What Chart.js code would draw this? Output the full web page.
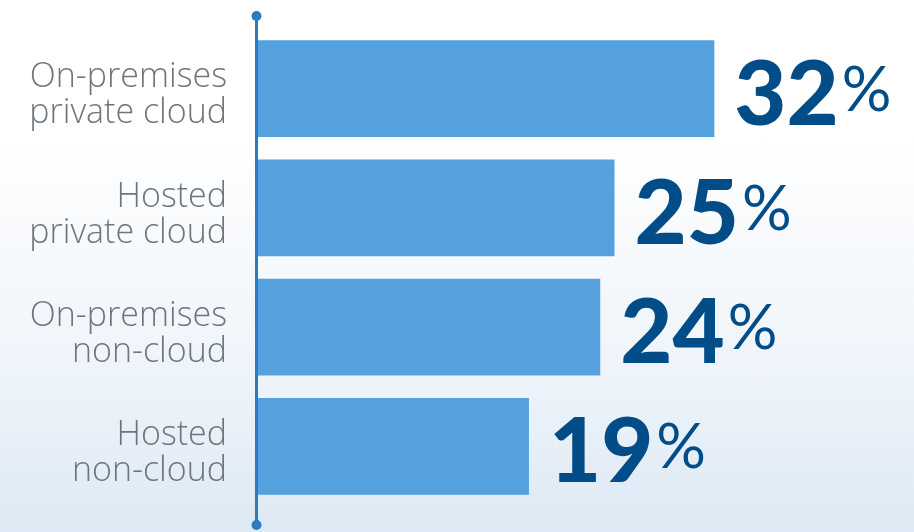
<!DOCTYPE html>
<html>
<head>
<meta charset="utf-8">
<script src="https://cdn.jsdelivr.net/npm/chart.js@4"></script>
<style>
  html, body { margin: 0; padding: 0; }
  body {
    width: 914px; height: 532px; overflow: hidden;
    background: linear-gradient(to bottom, #ffffff 0%, #ffffff 25%, #eef4fa 70%, #dde9f4 100%);
  }
  #wrap { width: 914px; height: 532px; }
</style>
</head>
<body>
<div id="wrap"><canvas id="myChart"></canvas></div>
<script>
let categories = [
  ['On-premises', 'private cloud'],
  ['Hosted', 'private cloud'],
  ['On-premises', 'non-cloud'],
  ['Hosted', 'non-cloud']
];
let shares = [32, 25, 24, 19];
let valueLabels = ['32', '25', '24', '19'];

const barBlue = '#55a1de';
const axisBlue = '#2a7bbf';
const numberBlue = '#024c88';

// vertical axis line with round dots at each end
const axisLine = {
  id: 'axisLine',
  afterDatasetsDraw(chart) {
    const c = chart.ctx;
    const x = chart.chartArea.left - 1.5;
    const top = 16, bottom = 525;
    c.save();
    c.strokeStyle = axisBlue;
    c.lineWidth = 3;
    c.beginPath();
    c.moveTo(x, top);
    c.lineTo(x, bottom);
    c.stroke();
    c.fillStyle = axisBlue;
    [top, bottom].forEach(y => {
      c.beginPath();
      c.arc(x, y, 5, 0, Math.PI * 2);
      c.fill();
    });
    c.restore();
  }
};

// big number + smaller percent sign after each bar
const valueText = {
  id: 'valueText',
  afterDatasetsDraw(chart) {
    const c = chart.ctx;
    const meta = chart.getDatasetMeta(0);
    c.save();
    c.fillStyle = numberBlue;
    meta.data.forEach((bar, i) => {
      const x = bar.x + 20;
      const base = bar.y + 36;
      c.font = '900 90px Lato';
      c.textBaseline = 'alphabetic';
      c.textAlign = 'left';
      c.fillText(valueLabels[i], x, base);
      const w = c.measureText(valueLabels[i]).width;
      c.font = 'normal 62px Lato';
      c.fillText('%', x + w + 3, base - 14);
    });
    c.restore();
  }
};

const ctx = document.getElementById('myChart');

var chart = new Chart(ctx, {
  type: 'bar',
  data: {
    labels: categories,
    datasets: [{
      data: shares,
      backgroundColor: barBlue,
      borderWidth: 0,
      categoryPercentage: 1,
      barPercentage: 0.813
    }]
  },
  options: {
    indexAxis: 'y',
    responsive: true,
    maintainAspectRatio: false,
    animation: false,
    layout: { padding: { top: 29, bottom: 26, left: 0, right: 0 } },
    plugins: {
      legend: { display: false },
      tooltip: { enabled: false }
    },
    scales: {
      x: {
        display: false,
        min: 0,
        max: 46
      },
      y: {
        afterFit(axis) {
          axis.width = 258;
          axis.paddingTop = 0;
          axis.paddingBottom = 0;
        },
        grid: { display: false, drawTicks: false },
        border: { display: false },
        ticks: {
          padding: 31,
          labelOffset: 7,
          color: '#6e757c',
          font: { family: 'Open Sans', size: 34, weight: '300', lineHeight: 1.06 }
        }
      }
    }
  },
  plugins: [axisLine, valueText]
});
</script>
</body>
</html>
